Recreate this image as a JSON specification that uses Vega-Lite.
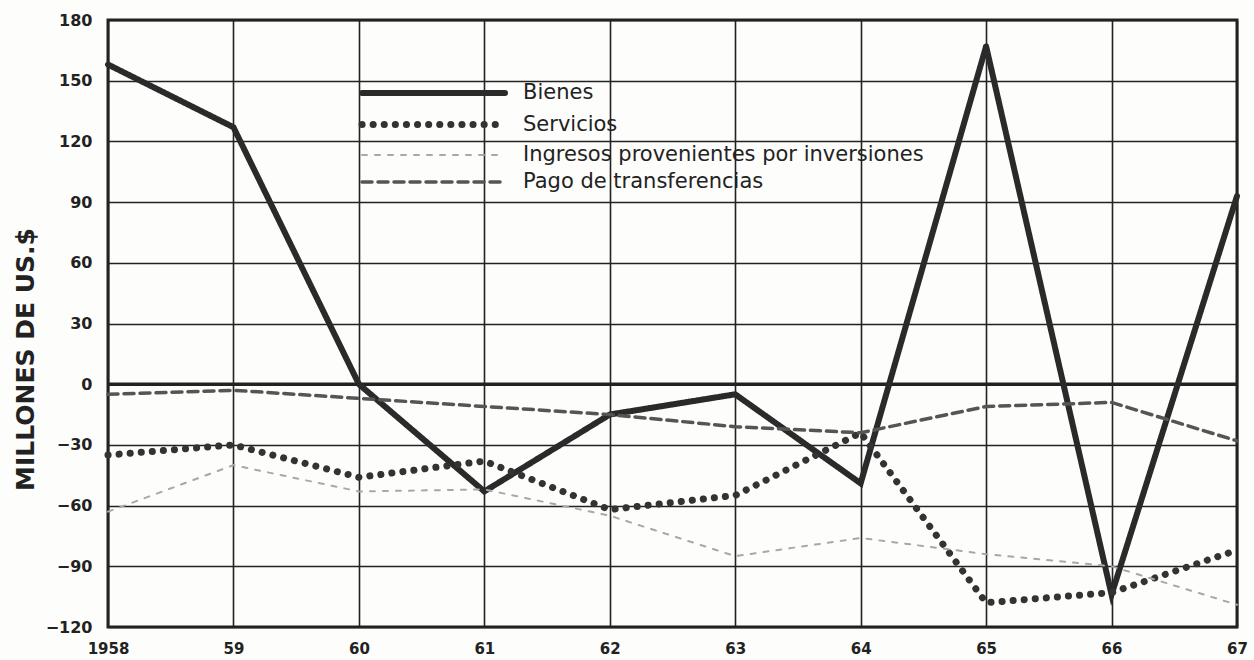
{
  "$schema": "https://vega.github.io/schema/vega-lite/v6.json",
  "width": 1129,
  "height": 607,
  "autosize": {"type": "none"},
  "padding": {"left": 108, "top": 20, "right": 17, "bottom": 33},
  "background": "#fdfdfb",
  "config": {
    "view": {"stroke": "#222", "strokeWidth": 3},
    "font": "DejaVu Sans"
  },
  "datasets": {
    "series": [
      {"anio": 1958, "serie": "Bienes", "valor": 158},
      {"anio": 1959, "serie": "Bienes", "valor": 127},
      {"anio": 1960, "serie": "Bienes", "valor": 0},
      {"anio": 1961, "serie": "Bienes", "valor": -53},
      {"anio": 1962, "serie": "Bienes", "valor": -15},
      {"anio": 1963, "serie": "Bienes", "valor": -5},
      {"anio": 1964, "serie": "Bienes", "valor": -49},
      {"anio": 1965, "serie": "Bienes", "valor": 167},
      {"anio": 1966, "serie": "Bienes", "valor": -104},
      {"anio": 1967, "serie": "Bienes", "valor": 93},
      {"anio": 1958, "serie": "Servicios", "valor": -35},
      {"anio": 1959, "serie": "Servicios", "valor": -30},
      {"anio": 1960, "serie": "Servicios", "valor": -46},
      {"anio": 1961, "serie": "Servicios", "valor": -38},
      {"anio": 1962, "serie": "Servicios", "valor": -62},
      {"anio": 1963, "serie": "Servicios", "valor": -55},
      {"anio": 1964, "serie": "Servicios", "valor": -24},
      {"anio": 1965, "serie": "Servicios", "valor": -108},
      {"anio": 1966, "serie": "Servicios", "valor": -103},
      {"anio": 1967, "serie": "Servicios", "valor": -82},
      {"anio": 1958, "serie": "Ingresos provenientes por inversiones", "valor": -63},
      {"anio": 1959, "serie": "Ingresos provenientes por inversiones", "valor": -40},
      {"anio": 1960, "serie": "Ingresos provenientes por inversiones", "valor": -53},
      {"anio": 1961, "serie": "Ingresos provenientes por inversiones", "valor": -52},
      {"anio": 1962, "serie": "Ingresos provenientes por inversiones", "valor": -65},
      {"anio": 1963, "serie": "Ingresos provenientes por inversiones", "valor": -85},
      {"anio": 1964, "serie": "Ingresos provenientes por inversiones", "valor": -76},
      {"anio": 1965, "serie": "Ingresos provenientes por inversiones", "valor": -84},
      {"anio": 1966, "serie": "Ingresos provenientes por inversiones", "valor": -90},
      {"anio": 1967, "serie": "Ingresos provenientes por inversiones", "valor": -109},
      {"anio": 1958, "serie": "Pago de transferencias", "valor": -5},
      {"anio": 1959, "serie": "Pago de transferencias", "valor": -3},
      {"anio": 1960, "serie": "Pago de transferencias", "valor": -7},
      {"anio": 1961, "serie": "Pago de transferencias", "valor": -11},
      {"anio": 1962, "serie": "Pago de transferencias", "valor": -15},
      {"anio": 1963, "serie": "Pago de transferencias", "valor": -21},
      {"anio": 1964, "serie": "Pago de transferencias", "valor": -24},
      {"anio": 1965, "serie": "Pago de transferencias", "valor": -11},
      {"anio": 1966, "serie": "Pago de transferencias", "valor": -9},
      {"anio": 1967, "serie": "Pago de transferencias", "valor": -28}
    ],
    "cero": [{"y": 0}]
  },
  "layer": [
    {
      "data": {"name": "cero"},
      "mark": {"type": "rule", "color": "#222", "strokeWidth": 3.5},
      "encoding": {"y": {"field": "y", "type": "quantitative", "scale": {"domain": [-120, 180], "nice": false, "zero": false}}}
    },
    {
      "data": {"name": "series"},
      "mark": {"type": "line", "strokeCap": "round", "strokeJoin": "miter"},
      "encoding": {
        "x": {
          "field": "anio",
          "type": "quantitative",
          "scale": {"domain": [1958, 1967], "nice": false, "zero": false},
          "axis": {
            "title": null,
            "values": [1958, 1959, 1960, 1961, 1962, 1963, 1964, 1965, 1966, 1967],
            "labelExpr": "datum.value == 1958 ? '1958' : substring(toString(datum.value), 2, 4)",
            "grid": true,
            "gridColor": "#222",
            "gridWidth": 1.6,
            "gridOpacity": 1,
            "domain": false,
            "ticks": false,
            "labelPadding": 14,
            "labelFont": "DejaVu Sans",
            "labelFontWeight": "bold",
            "labelFontSize": 15,
            "labelColor": "#222",
            "labelFlush": false
          }
        },
        "y": {
          "field": "valor",
          "type": "quantitative",
          "scale": {"domain": [-120, 180], "nice": false, "zero": false},
          "axis": {
            "title": "MILLONES DE US.$",
            "titleFont": "DejaVu Sans",
            "titleFontWeight": "bold",
            "titleFontSize": 25,
            "titleColor": "#222",
            "titleAngle": -90,
            "titleAlign": "center",
            "titleBaseline": "middle",
            "titleX": -83,
            "titleY": 339,
            "values": [-120, -90, -60, -30, 0, 30, 60, 90, 120, 150, 180],
            "grid": true,
            "gridColor": "#222",
            "gridWidth": 1.6,
            "gridOpacity": 1,
            "domain": false,
            "ticks": false,
            "labelPadding": 16,
            "labelFont": "DejaVu Sans",
            "labelFontWeight": "bold",
            "labelFontSize": 16,
            "labelColor": "#222",
            "labelFlush": false
          }
        },
        "color": {
          "field": "serie",
          "type": "nominal",
          "scale": {
            "domain": ["Bienes", "Servicios", "Ingresos provenientes por inversiones", "Pago de transferencias"],
            "range": ["#2a2a2a", "#333333", "#a8a8a8", "#555555"]
          },
          "legend": {
            "title": null,
            "orient": "none",
            "legendX": 312,
            "legendY": 60,
            "symbolType": "M-7.15,0H7.15",
            "symbolSize": 400,
            "labelFont": "DejaVu Sans",
            "labelFontSize": 21,
            "labelColor": "#222",
            "labelOffset": 76,
            "labelLimit": 700,
            "rowPadding": 5,
            "encode": {
              "symbols": {"update": {"strokeCap": {"value": "round"}, "fillOpacity": {"value": 0}}}
            }
          }
        },
        "strokeDash": {
          "field": "serie",
          "type": "nominal",
          "scale": {
            "domain": ["Bienes", "Servicios", "Ingresos provenientes por inversiones", "Pago de transferencias"],
            "range": [[1, 0], [0.1, 11], [5, 8], [10, 6]]
          }
        },
        "strokeWidth": {
          "field": "serie",
          "type": "nominal",
          "scale": {
            "type": "ordinal",
            "domain": ["Bienes", "Servicios", "Ingresos provenientes por inversiones", "Pago de transferencias"],
            "range": [6, 7, 2, 3.5]
          }
        }
      }
    }
  ]
}
